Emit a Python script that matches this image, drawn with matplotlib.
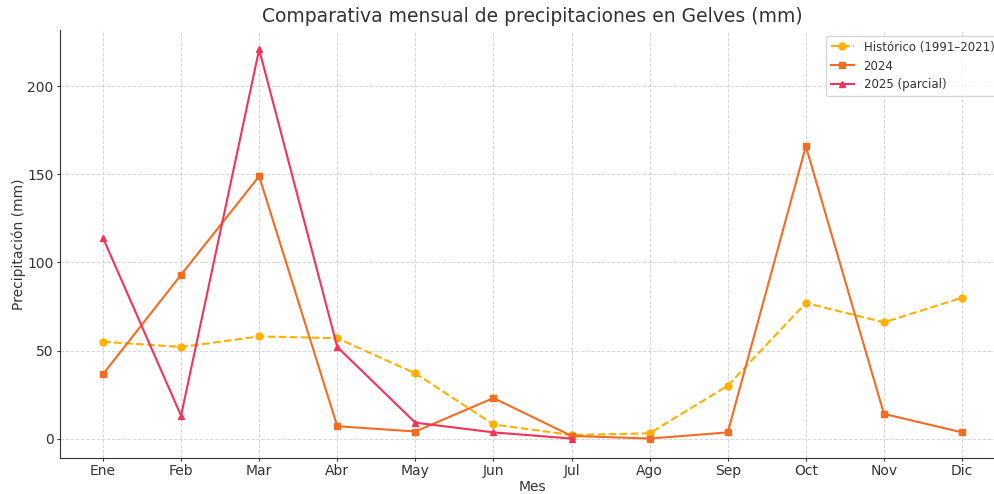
import matplotlib
matplotlib.use("Agg")
import matplotlib.pyplot as plt

meses = ["Ene", "Feb", "Mar", "Abr", "May", "Jun", "Jul", "Ago", "Sep", "Oct", "Nov", "Dic"]
historico = [55, 52, 58, 57, 37, 8, 2, 3, 30, 77, 66, 80]
p2024 = [36.5, 93, 149, 7, 4, 23, 1.5, 0, 3.5, 166, 14, 3.5]
p2025 = [114, 13, 221, 52, 9, 3.5, 0]

fig = plt.figure(figsize=(9.95, 4.94), dpi=100)
ax = fig.add_axes([60/995, 36/494, 945/995, 428/494])

x = list(range(len(meses)))
ax.plot(x, historico, color="#FFB000", linestyle="--", marker="o", markersize=5, linewidth=1.5,
        label="Histórico (1991–2021)")
ax.plot(x, p2024, color="#F36C21", linestyle="-", marker="s", markersize=5, linewidth=1.5,
        label="2024")
ax.plot(x[:len(p2025)], p2025, color="#F0345A", linestyle="-", marker="^", markersize=5, linewidth=1.5,
        label="2025 (parcial)")

ax.set_xticks(x)
ax.set_xticklabels(meses, fontsize=10)
ax.tick_params(axis="both", labelsize=10, length=2.5, pad=2, colors="#333333")
ax.set_xlabel("Mes", fontsize=10, color="#333333", labelpad=1)
ax.set_ylabel("Precipitación (mm)", fontsize=10, color="#333333", labelpad=1)
ax.set_title("Comparativa mensual de precipitaciones en Gelves (mm)", fontsize=13.5, color="#333333")
ax.grid(True, linestyle="--", color="#cccccc", linewidth=0.7, alpha=0.8)
for s in ["top", "right"]:
    ax.spines[s].set_visible(False)
for s in ["left", "bottom"]:
    ax.spines[s].set_color("#333333")
leg = ax.legend(loc="upper right", fontsize=8.5)
for t in leg.get_texts():
    t.set_color("#333333")

fig.savefig("out.png", dpi=100)
